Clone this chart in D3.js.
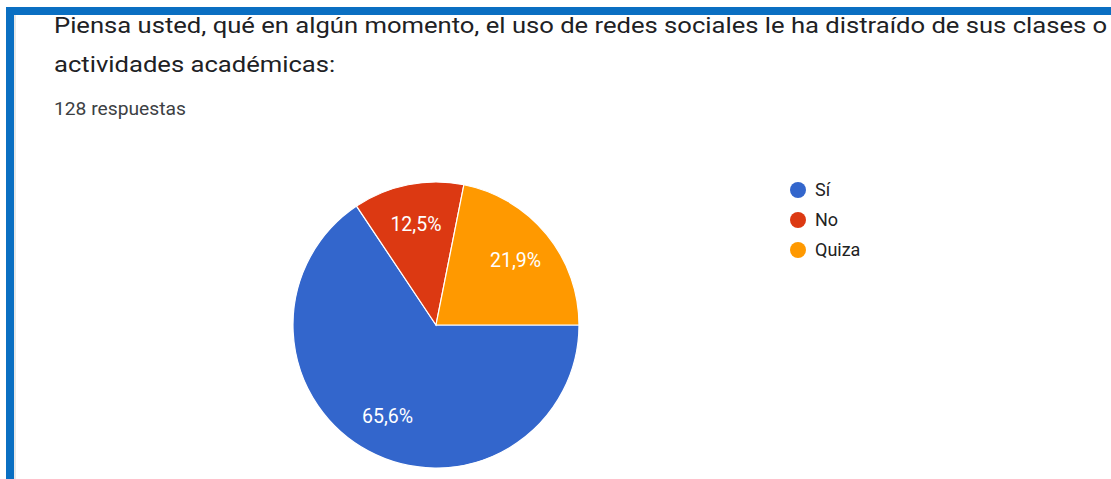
<!DOCTYPE html>
<html>
<head>
<meta charset="utf-8">
<script src="https://cdn.jsdelivr.net/npm/d3@7/dist/d3.min.js"></script>
<style>
  html, body { margin: 0; padding: 0; background: #fff; }
  svg { display: block; }
</style>
</head>
<body>
<svg id="chart" width="1111" height="479"></svg>
<script>
const titleLines = [
  "Piensa usted, qué en algún momento, el uso de redes sociales le ha distraído de sus clases o",
  "actividades académicas:"
];
const subtitle = "128 respuestas";
const categories = ["Sí", "No", "Quiza"];
const values = [84, 16, 28];
const percentLabels = ["65,6%", "12,5%", "21,9%"];
const colors = ["#3366cc", "#dc3912", "#ff9900"];

const svg = d3.select("#chart");

// frame
svg.append("rect").attr("x", 0).attr("y", 0).attr("width", 1111).attr("height", 479).attr("fill", "#fff");
svg.append("rect").attr("x", 6).attr("y", 7).attr("width", 1105).attr("height", 8).attr("fill", "#0a6fc2");
svg.append("rect").attr("x", 6).attr("y", 7).attr("width", 8).attr("height", 472).attr("fill", "#0a6fc2");
svg.append("rect").attr("x", 14).attr("y", 15).attr("width", 2).attr("height", 464).attr("fill", "#e8e8e8");

// titles
const titleSel = svg.selectAll("text.title").data(titleLines).join("text")
  .attr("class", "title")
  .attr("font-family", "Roboto, sans-serif").attr("font-size", 22)
  .attr("fill", "#202124")
  .text(d => d);
const firstLen = titleSel.node().getComputedTextLength();
const titleScale = 1054 / firstLen;
titleSel.attr("transform", (d, i) => `translate(54, ${33 + i * 39}) scale(${titleScale}, 1)`);

svg.append("text")
  .attr("transform", "translate(54, 115) scale(1.1, 1)")
  .attr("font-family", "Roboto, sans-serif").attr("font-size", 17.5)
  .attr("fill", "#3c4043")
  .text(subtitle);

// pie
const cx = 436, cy = 325, r = 143;
const pie = d3.pie().sort(null).value(d => d)
  .startAngle(Math.PI / 2).endAngle(Math.PI / 2 + 2 * Math.PI);
const arcs = pie(values);
const arc = d3.arc().innerRadius(0).outerRadius(r);
const labelArc = d3.arc().innerRadius(r * 0.72).outerRadius(r * 0.72);

const g = svg.append("g").attr("transform", `translate(${cx},${cy})`);
g.selectAll("path").data(arcs).join("path")
  .attr("d", arc)
  .attr("fill", (d, i) => colors[i])
  .attr("stroke", "#fff").attr("stroke-width", 1.2);

g.selectAll("text").data(arcs).join("text")
  .attr("transform", d => `translate(${labelArc.centroid(d)})`)
  .attr("text-anchor", "middle").attr("dy", "0.36em")
  .attr("font-family", "Roboto, sans-serif").attr("font-size", 19.5)
  .attr("fill", "#fff")
  .text((d, i) => percentLabels[i]);

// legend
const legend = svg.append("g");
const items = legend.selectAll("g").data(categories).join("g")
  .attr("transform", (d, i) => `translate(798, ${190 + i * 30})`);
items.append("circle").attr("r", 8).attr("fill", (d, i) => colors[i]);
items.append("text").attr("x", 17).attr("dy", "0.36em")
  .attr("font-family", "Roboto, sans-serif").attr("font-size", 18)
  .attr("fill", "#222")
  .text(d => d);
</script>
</body>
</html>
